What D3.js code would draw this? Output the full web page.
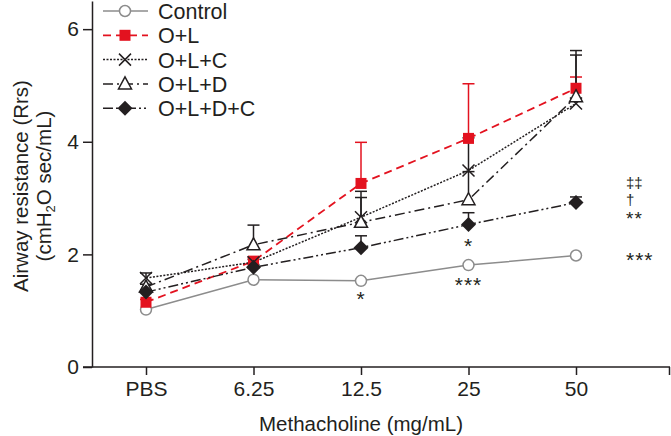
<!DOCTYPE html>
<html>
<head>
<meta charset="utf-8">
<script src="https://cdn.jsdelivr.net/npm/d3@7"></script>
<style>
body { margin: 0; background: #fff; }
text { font-family: "Liberation Sans", Arial, sans-serif; fill: #231f20; }
</style>
</head>
<body>
<div id="chart"></div>
<script>
// Chart data
var doses = ["PBS", "6.25", "12.5", "25", "50"];
var groups = ["Control", "O+L", "O+L+C", "O+L+D", "O+L+D+C"];

var controlMean = [1.02, 1.55, 1.53, 1.81, 1.98];
var olMean = [1.15, 1.88, 3.26, 4.06, 4.95];
var olcMean = [1.58, 1.86, 2.66, 3.49, 4.68];
var oldMean = [1.42, 2.17, 2.57, 2.97, 4.80];
var oldcMean = [1.33, 1.77, 2.12, 2.53, 2.92];

var controlErr = [0, 0, 0, 0, 0];
var olErr = [0.05, 0.06, 0.73, 0.97, 0.2];
var olcErr = [0.09, 0.05, 0.46, 0.58, 0.86];
var oldErr = [0.05, 0.35, 0.44, 0.5, 0.82];
var oldcErr = [0.04, 0.05, 0.21, 0.21, 0.1];

var yTicks = [0, 2, 4, 6];

// significance marks: [dose, baseline value, text]
var marks = [
  ["12.5", 1.08, "*"],
  ["25", 1.33, "***"],
  ["25", 2.02, "*"],
  ["50", 3.18, "\u2021\u2021"],
  ["50", 2.88, "\u2020"],
  ["50", 2.52, "**"],
  ["50", 1.78, "***"]
];

var series = [
  {name: groups[0], mean: controlMean, err: controlErr, color: "#8c8c8c", dash: null, sym: "circle"},
  {name: groups[1], mean: olMean, err: olErr, color: "#e3121f", dash: "8,5", sym: "square"},
  {name: groups[2], mean: olcMean, err: olcErr, color: "#231f20", dash: "2,1.5", sym: "cross"},
  {name: groups[3], mean: oldMean, err: oldErr, color: "#231f20", dash: "10,4,2,4", sym: "triangle"},
  {name: groups[4], mean: oldcMean, err: oldcErr, color: "#231f20", dash: "10,3,2,3,2,3", sym: "diamond"}
];

var svgWidth = 671;
var svgHeight = 436;
var margin = {top: 1, right: 1, bottom: 69, left: 92};

var svg = d3.select("#chart")
  .append("svg")
  .attr("width", svgWidth)
  .attr("height", svgHeight);

var x = d3.scalePoint()
  .domain(doses)
  .range([146, 576]);

var y = d3.scaleLinear()
  .domain([0, 6.5])
  .range([svgHeight - margin.bottom, margin.top]);

var axisColor = "#231f20";

// y axis
var yAxis = svg.append("g")
  .attr("transform", `translate(${margin.left},0)`)
  .call(d3.axisLeft(y).tickValues(yTicks).tickFormat(d3.format("d")).tickSize(9).tickSizeOuter(0).tickPadding(4));
yAxis.select(".domain").attr("stroke", axisColor).attr("stroke-width", 1.5);
yAxis.selectAll(".tick line").attr("stroke", axisColor).attr("stroke-width", 1.5);
yAxis.selectAll(".tick text").style("font-size", "21px").attr("fill", axisColor);

// x axis
var xAxis = svg.append("g")
  .attr("transform", `translate(0,${y(0)})`)
  .call(d3.axisBottom(x).tickSize(8).tickSizeOuter(0).tickPadding(6));
xAxis.select(".domain").remove();
xAxis.append("line")
  .attr("x1", 83).attr("x2", 670)
  .attr("stroke", axisColor).attr("stroke-width", 1.5);
xAxis.append("line")
  .attr("x1", 669.5).attr("x2", 669.5).attr("y1", 0).attr("y2", 8)
  .attr("stroke", axisColor).attr("stroke-width", 1.5);
xAxis.selectAll(".tick line").attr("stroke", axisColor).attr("stroke-width", 1.5);
xAxis.selectAll(".tick text").style("font-size", "21px").attr("fill", axisColor);

// axis titles
svg.append("text")
  .attr("x", 361).attr("y", 431)
  .attr("text-anchor", "middle")
  .style("font-size", "20.5px")
  .text("Methacholine (mg/mL)");

var yTitle = svg.append("text")
  .attr("transform", "translate(28,186) rotate(-90)")
  .attr("text-anchor", "middle")
  .style("font-size", "20.5px");
yTitle.append("tspan").attr("x", 0).attr("dy", 0).text("Airway resistance (Rrs)");
var t2 = yTitle.append("tspan").attr("x", 0).attr("dy", 23).text("(cmH");
t2.append("tspan").style("font-size", "13px").attr("dy", 4).text("2");
t2.append("tspan").attr("dy", -4).text("O sec/mL)");

// marker drawing helper
function drawMarker(g, s, cx, cy) {
  if (s.sym == "circle") {
    g.append("circle").attr("cx", cx).attr("cy", cy).attr("r", 5.5)
      .attr("fill", "#fff").attr("stroke", s.color).attr("stroke-width", 1.5);
  } else if (s.sym == "square") {
    g.append("rect").attr("x", cx - 5.5).attr("y", cy - 5.5).attr("width", 11).attr("height", 11)
      .attr("fill", s.color);
  } else if (s.sym == "cross") {
    g.append("path").attr("d", `M${cx-6},${cy-6}L${cx+6},${cy+6}M${cx-6},${cy+6}L${cx+6},${cy-6}`)
      .attr("stroke", s.color).attr("stroke-width", 1.5).attr("fill", "none");
  } else if (s.sym == "triangle") {
    g.append("path").attr("d", `M${cx},${cy-7}L${cx+6.5},${cy+5}L${cx-6.5},${cy+5}Z`)
      .attr("fill", "#fff").attr("stroke", s.color).attr("stroke-width", 1.5);
  } else {
    g.append("path").attr("d", `M${cx},${cy-7.5}L${cx+7.5},${cy}L${cx},${cy+7.5}L${cx-7.5},${cy}Z`)
      .attr("fill", s.color);
  }
}

var line = d3.line()
  .x((d, i) => x(doses[i]))
  .y(d => y(d));

// error bars first, then lines and markers
series.forEach(function(s) {
  var eg = svg.append("g");
  s.mean.forEach(function(m, i) {
    if (s.err[i] <= 0) return;
    var cx = x(doses[i]);
    eg.append("line").attr("x1", cx).attr("x2", cx)
      .attr("y1", y(m)).attr("y2", y(m + s.err[i]))
      .attr("stroke", s.color).attr("stroke-width", 1.5);
    eg.append("line").attr("x1", cx - 6).attr("x2", cx + 6)
      .attr("y1", y(m + s.err[i])).attr("y2", y(m + s.err[i]))
      .attr("stroke", s.color).attr("stroke-width", 1.5);
  });
});

series.forEach(function(s) {
  svg.append("path")
    .datum(s.mean)
    .attr("d", line)
    .attr("fill", "none")
    .attr("stroke", s.color)
    .attr("stroke-width", s.sym == "square" ? 1.8 : 1.5)
    .attr("stroke-dasharray", s.dash);
});

series.forEach(function(s) {
  var mg = svg.append("g");
  s.mean.forEach(function(m, i) {
    drawMarker(mg, s, x(doses[i]), y(m));
  });
});

// significance marks
function isStar(t) { return t.indexOf("*") >= 0; }
svg.append("g").selectAll("text")
  .data(marks)
  .enter()
  .append("text")
  .attr("x", d => d[0] == "50" ? x(d[0]) + 50 : x(d[0]))
  .attr("y", d => y(d[1]))
  .attr("text-anchor", d => d[0] == "50" ? "start" : "middle")
  .style("font-size", d => isStar(d[2]) ? (d[2] == "**" ? "19px" : "21px") : "15px")
  .style("letter-spacing", d => isStar(d[2]) ? "1px" : "0px")
  .text(d => d[2]);

// legend
var legend = svg.append("g");
series.forEach(function(s, i) {
  var ly = 11 + i * 24.3;
  legend.append("line")
    .attr("x1", 103).attr("x2", 148).attr("y1", ly).attr("y2", ly)
    .attr("stroke", s.color).attr("stroke-width", s.sym == "square" ? 1.8 : 1.5)
    .attr("stroke-dasharray", s.dash);
  drawMarker(legend, s, 125, ly);
  legend.append("text")
    .attr("x", 158).attr("y", ly + 8)
    .style("font-size", "21.5px")
    .text(s.name);
});
</script>
</body>
</html>
